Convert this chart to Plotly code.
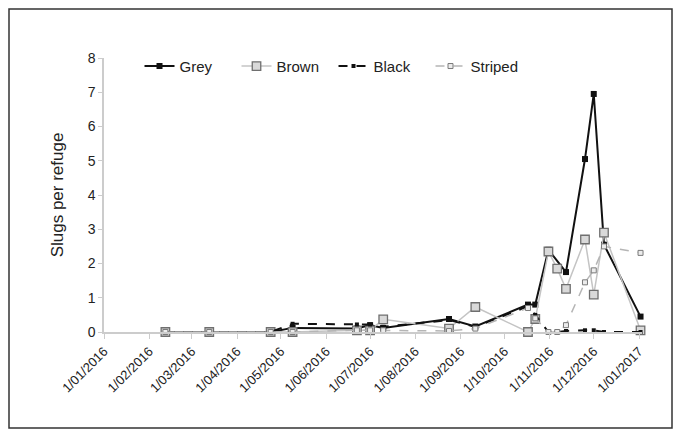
import plotly.graph_objects as go

dates = ["2016-02-12", "2016-03-13", "2016-04-24", "2016-05-09", "2016-06-22",
         "2016-07-01", "2016-07-10", "2016-08-24", "2016-09-11", "2016-10-17",
         "2016-10-22", "2016-10-31", "2016-11-06", "2016-11-12", "2016-11-25",
         "2016-12-01", "2016-12-08", "2017-01-02"]

grey = [0, 0, 0, 0.12, 0.1, 0.2, 0.12, 0.38, 0.16, 0.8,
        0.8, 2.4, None, 1.75, 5.05, 6.95, 2.55, 0.45]
brown = [0, 0, 0, 0, 0.05, 0.05, 0.37, 0.1, 0.73, 0,
         0.38, 2.35, 1.85, 1.26, 2.7, 1.09, 2.9, 0.05]
black = [0, 0, 0, 0.24, 0.22, 0.22, 0.15, 0.35, 0.15, 0.75,
         0.5, 0, 0, 0.03, 0.05, 0.05, 0, 0]
striped = [0, 0, 0, 0, 0.05, 0.05, 0.05, 0.03, 0.1, 0.7,
           0.4, 0, 0, 0.2, 1.45, 1.8, 2.5, 2.31]

tick_vals = ["2016-01-01", "2016-02-01", "2016-03-01", "2016-04-01", "2016-05-01",
             "2016-06-01", "2016-07-01", "2016-08-01", "2016-09-01", "2016-10-01",
             "2016-11-01", "2016-12-01", "2017-01-01"]
tick_text = ["1/01/2016", "1/02/2016", "1/03/2016", "1/04/2016", "1/05/2016",
             "1/06/2016", "1/07/2016", "1/08/2016", "1/09/2016", "1/10/2016",
             "1/11/2016", "1/12/2016", "1/01/2017"]

font_family = "Liberation Sans Narrow, Arial Narrow, Liberation Sans, Arial, sans-serif"

W, H = 665, 421
L, T, PW, PH = 96, 50, 538, 274

fig = go.Figure()
fig.add_trace(go.Scatter(
    x=dates, y=grey, name="Grey", mode="lines+markers", connectgaps=True,
    line=dict(color="#111111", width=2),
    marker=dict(symbol="square", size=6, color="#111111"),
    cliponaxis=False))
fig.add_trace(go.Scatter(
    x=dates, y=brown, name="Brown", mode="lines+markers",
    line=dict(color="#c4c4c4", width=1.5),
    marker=dict(symbol="square", size=8.5, color="#d9d9d9",
                line=dict(color="#6f6f6f", width=1.3)),
    cliponaxis=False))
fig.add_trace(go.Scatter(
    x=dates, y=black, name="Black", mode="lines+markers",
    line=dict(color="#111111", width=2, dash="dash"),
    marker=dict(symbol="square", size=4, color="#111111"),
    cliponaxis=False))
fig.add_trace(go.Scatter(
    x=dates, y=striped, name="Striped", mode="lines+markers",
    line=dict(color="#b5b5b5", width=1.5, dash="dash"),
    marker=dict(symbol="square", size=5, color="#ececec",
                line=dict(color="#7a7a7a", width=1)),
    cliponaxis=False))

fig.update_layout(
    width=W, height=H,
    margin=dict(l=L, r=W - L - PW, t=T, b=H - T - PH),
    paper_bgcolor="white", plot_bgcolor="white",
    font=dict(family=font_family, color="#222222", size=13),
    showlegend=True,
    legend=dict(orientation="h", x=0.066, y=1.03, xanchor="left", yanchor="top",
                font=dict(size=15, family=font_family, color="#222222"),
                bgcolor="rgba(0,0,0,0)", entrywidth=52, entrywidthmode="pixels",
                itemwidth=30),
    xaxis=dict(type="date", range=["2016-01-01", "2017-01-03"],
               tickvals=tick_vals, ticktext=tick_text, tickangle=-45,
               showline=True, linecolor="#cccccc", linewidth=1.5,
               ticks="outside", ticklen=5, tickcolor="#cccccc",
               showgrid=False, zeroline=False,
               tickfont=dict(size=13, family=font_family, color="#222222")),
    yaxis=dict(range=[0, 8], dtick=1, showline=True, linecolor="#cccccc",
               linewidth=1.5, ticks="outside", ticklen=4, tickcolor="#cccccc",
               showgrid=False, zeroline=False,
               title=dict(text="Slugs per refuge", standoff=20,
                          font=dict(size=17, family=font_family, color="#222222")),
               tickfont=dict(size=14, family=font_family, color="#222222")),
    shapes=[dict(type="rect", xref="paper", yref="paper",
                 x0=(1 - L) / PW, x1=(664 - L) / PW,
                 y0=(T + PH - 420) / PH, y1=(T + PH - 1) / PH,
                 line=dict(color="#333333", width=1.5))],
)

fig.write_html("out.html")
